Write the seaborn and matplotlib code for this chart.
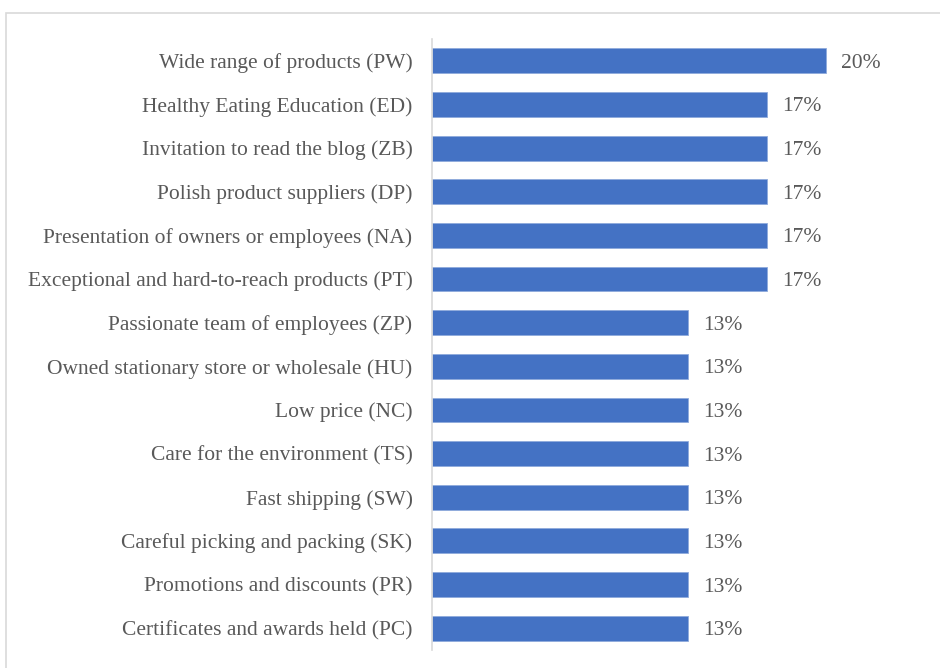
import pandas as pd
import matplotlib.pyplot as plt
import matplotlib.patches as mpatches
import seaborn as sns

# Data
categories = [
    "Wide range of products (PW)",
    "Healthy Eating Education (ED)",
    "Invitation to read the blog (ZB)",
    "Polish product suppliers (DP)",
    "Presentation of owners or employees (NA)",
    "Exceptional and hard-to-reach products (PT)",
    "Passionate team of employees (ZP)",
    "Owned stationary store or wholesale (HU)",
    "Low price (NC)",
    "Care for the environment (TS)",
    "Fast shipping (SW)",
    "Careful picking and packing (SK)",
    "Promotions and discounts (PR)",
    "Certificates and awards held (PC)",
]
shares = [20, 17, 17, 17, 17, 17, 13, 13, 13, 13, 13, 13, 13, 13]

df = pd.DataFrame({"category": categories, "share": shares})

sns.set_style("white")
plt.rcParams["font.family"] = ["Liberation Serif", "DejaVu Serif"]

text_color = "#595959"
bar_color = "#4472C4"
font_size = 15.5

fig = plt.figure(figsize=(9.4, 6.68), dpi=100)
ax = fig.add_axes([432 / 940, 1 - 650 / 668, 492 / 940, 611 / 668])

sns.barplot(data=df, x="share", y="category", orient="h", color=bar_color,
            width=0.57, edgecolor="#8FAADC", linewidth=0.6, saturation=1, ax=ax)

ax.set_xlim(0, 25)
ax.set_ylim(len(categories) - 0.5, -0.5)
ax.set_xlabel("")
ax.set_ylabel("")
ax.set_xticks([])
ax.tick_params(axis="y", length=0, pad=14, labelsize=font_size, labelcolor=text_color)
for lbl in ax.get_yticklabels():
    lbl.set_verticalalignment("center_baseline")

for side in ["top", "right", "bottom"]:
    ax.spines[side].set_visible(False)
ax.spines["left"].set_color("#D9D9D9")
ax.spines["left"].set_linewidth(1.2)

# Value labels
for i, v in enumerate(shares):
    ax.annotate(f"{v}%", xy=(v, i), xytext=(11, 0), textcoords="offset points",
                ha="left", va="center_baseline", fontsize=font_size, color=text_color)

# Chart area frame
frame = mpatches.Rectangle((6 / 940, -0.1), 1.1, 1 - 13 / 668 + 0.1,
                           transform=fig.transFigure, fill=False,
                           edgecolor="#D9D9D9", linewidth=1.2)
fig.patches.append(frame)

fig.savefig("out.png", dpi=100)
plt.close(fig)
